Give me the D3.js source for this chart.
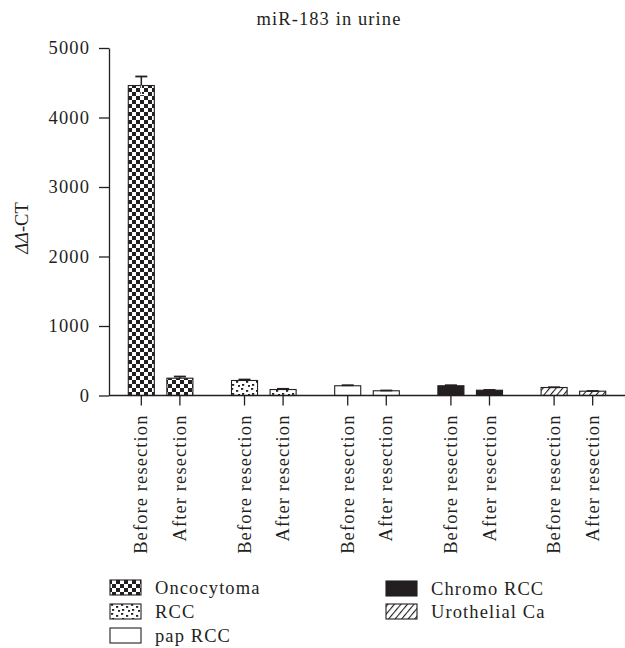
<!DOCTYPE html>
<html>
<head>
<meta charset="utf-8">
<script src="https://cdn.jsdelivr.net/npm/d3@7"></script>
<style>
  html, body { margin: 0; padding: 0; background: #fff; }
  svg text { font-family: "Liberation Serif", "Times New Roman", serif; fill: #231f20; }
</style>
</head>
<body>
<svg id="chart" width="625" height="648"></svg>
<script>
// ---- data ----
const groups = ["Oncocytoma", "RCC", "pap RCC", "Chromo RCC", "Urothelial Ca"];
const conditions = ["Before resection", "After resection"];
const beforeValues = [4460, 216, 140, 140, 115];
const afterValues  = [249, 86, 68, 76, 62];
const beforeErrors = [130, 14, 8, 8, 4];
const afterErrors  = [24, 10, 4, 4, 3];
const yTicks = [0, 1000, 2000, 3000, 4000, 5000];
const titleText = "miR-183 in urine";
const legendLeft = ["Oncocytoma", "RCC", "pap RCC"];
const legendRight = ["Chromo RCC", "Urothelial Ca"];

const ink = "#231f20";
const fs = "18.5px";
const ls = "1.1px";
const svg = d3.select("#chart");
const defs = svg.append("defs");

// patterns
const pChecker = defs.append("pattern").attr("id", "p-checker")
  .attr("patternUnits", "userSpaceOnUse").attr("width", 8).attr("height", 8);
pChecker.append("rect").attr("width", 8).attr("height", 8).attr("fill", "#fff");
pChecker.append("rect").attr("x", 0).attr("y", 0).attr("width", 4).attr("height", 4).attr("fill", ink);
pChecker.append("rect").attr("x", 4).attr("y", 4).attr("width", 4).attr("height", 4).attr("fill", ink);

const pDots = defs.append("pattern").attr("id", "p-dots")
  .attr("patternUnits", "userSpaceOnUse").attr("width", 10).attr("height", 9);
pDots.append("rect").attr("width", 10).attr("height", 9).attr("fill", "#fff");
[[1,1],[6,3],[2,6],[8,7]].forEach(([x,y]) => {
  pDots.append("rect").attr("x", x).attr("y", y).attr("width", 2.2).attr("height", 1.8).attr("fill", ink);
});

const pHatch = defs.append("pattern").attr("id", "p-hatch")
  .attr("patternUnits", "userSpaceOnUse").attr("width", 5).attr("height", 5)
  .attr("patternTransform", "rotate(40)");
pHatch.append("rect").attr("width", 5).attr("height", 5).attr("fill", "#fff");
pHatch.append("line").attr("x1", 0).attr("y1", 0).attr("x2", 0).attr("y2", 5)
  .attr("stroke", ink).attr("stroke-width", 2.2);

const fills = {
  "Oncocytoma": "url(#p-checker)",
  "RCC": "url(#p-dots)",
  "pap RCC": "#fff",
  "Chromo RCC": ink,
  "Urothelial Ca": "url(#p-hatch)"
};

// scales
const x0 = d3.scaleBand().domain(groups).range([109, 625]).paddingInner(0).paddingOuter(0);
const x1 = d3.scaleBand().domain(conditions).range([0, x0.bandwidth()])
  .paddingInner(0.325).paddingOuter(0.5);
const y = d3.scaleLinear().domain([0, 5000]).range([395.5, 48]);

const rows = [];
groups.forEach((g, i) => {
  rows.push({ group: g, cond: conditions[0], value: beforeValues[i], err: beforeErrors[i] });
  rows.push({ group: g, cond: conditions[1], value: afterValues[i], err: afterErrors[i] });
});

// title
svg.append("text").attr("x", 329).attr("y", 25).attr("text-anchor", "middle")
  .style("font-size", fs).style("letter-spacing", ls).text(titleText);

// y axis
const yAxis = svg.append("g").attr("transform", "translate(109,0)")
  .call(d3.axisLeft(y).tickValues(yTicks).tickFormat(d3.format("d")).tickSize(10).tickSizeOuter(0).tickPadding(9));
yAxis.selectAll("path, line").attr("stroke", ink).attr("stroke-width", 1.3);
yAxis.selectAll("text").style("font-size", fs).style("letter-spacing", ls)
  .style("font-family", "'Liberation Serif', serif").attr("fill", ink);

// y label
const yl = svg.append("text").attr("transform", "translate(28,228) rotate(-90)")
  .attr("text-anchor", "middle").style("font-size", fs);
yl.append("tspan").style("font-style", "italic").text("ΔΔ");
yl.append("tspan").text("-CT");

// bars
const bars = svg.append("g");
bars.selectAll("rect").data(rows).join("rect")
  .attr("x", d => x0(d.group) + x1(d.cond))
  .attr("y", d => y(d.value))
  .attr("width", x1.bandwidth())
  .attr("height", d => y(0) - y(d.value))
  .attr("fill", d => fills[d.group])
  .attr("stroke", ink).attr("stroke-width", 1.1);

// error bars (upper)
const eb = svg.append("g");
rows.forEach(d => {
  const cx = x0(d.group) + x1(d.cond) + x1.bandwidth() / 2;
  eb.append("line").attr("x1", cx).attr("x2", cx).attr("y1", y(d.value)).attr("y2", y(d.value + d.err))
    .attr("stroke", ink).attr("stroke-width", 1.5);
  eb.append("line").attr("x1", cx - 6).attr("x2", cx + 6).attr("y1", y(d.value + d.err)).attr("y2", y(d.value + d.err))
    .attr("stroke", ink).attr("stroke-width", 1.8);
  if (d.value > 1000) {
    eb.append("line").attr("x1", cx).attr("x2", cx).attr("y1", y(d.value)).attr("y2", y(d.value - d.err))
      .attr("stroke", "#fff").attr("stroke-width", 1.2);
    eb.append("line").attr("x1", cx - 5).attr("x2", cx + 5).attr("y1", y(d.value - d.err)).attr("y2", y(d.value - d.err))
      .attr("stroke", "#fff").attr("stroke-width", 1.2);
  }
});

// x axis
const xTickScale = d3.scaleOrdinal()
  .domain(rows.map((d, i) => i))
  .range(rows.map(d => x0(d.group) + x1(d.cond) + x1.bandwidth() / 2));
const xAxisG = svg.append("g").attr("transform", `translate(0,${y(0)})`);
xAxisG.append("line").attr("x1", x0.range()[0]).attr("x2", x0.range()[1])
  .attr("stroke", ink).attr("stroke-width", 1.3);
const xt = xAxisG.selectAll("g.tick").data(rows).join("g").attr("class", "tick")
  .attr("transform", (d, i) => `translate(${xTickScale(i)},0)`);
xt.append("line").attr("y1", 0).attr("y2", 10).attr("stroke", ink).attr("stroke-width", 1.3);
xt.append("text").attr("transform", "translate(0,19) rotate(-90)")
  .attr("text-anchor", "end").attr("dy", "0.33em")
  .style("font-size", fs).style("letter-spacing", ls).text(d => d.cond);

// legend
const legend = svg.append("g");
function legendItem(name, lx, ly) {
  legend.append("rect").attr("x", lx).attr("y", ly).attr("width", 31).attr("height", 15)
    .attr("fill", fills[name]).attr("stroke", ink).attr("stroke-width", 1.1);
  legend.append("text").attr("x", lx + 45).attr("y", ly + 14)
    .style("font-size", fs).style("letter-spacing", ls).text(name);
}
legendLeft.forEach((n, i) => legendItem(n, 110, 580 + i * 24));
legendRight.forEach((n, i) => legendItem(n, 386, 581 + i * 23));
</script>
</body>
</html>
